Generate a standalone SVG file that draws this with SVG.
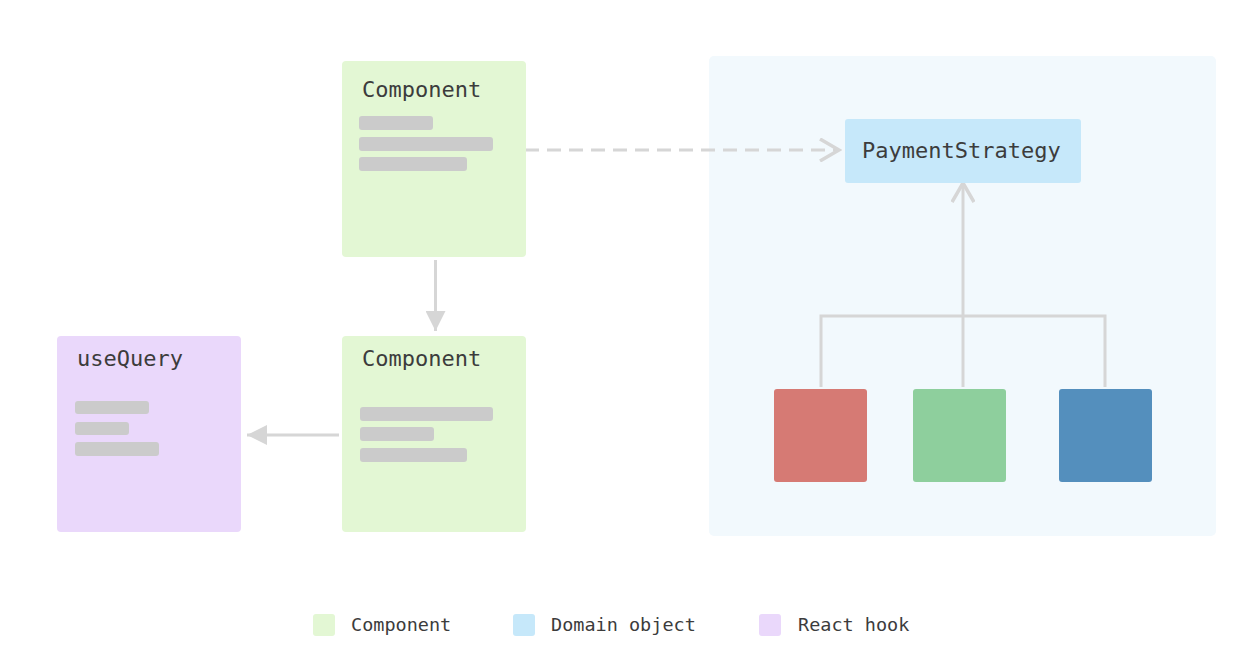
<svg xmlns="http://www.w3.org/2000/svg" width="1256" height="670" viewBox="0 0 1256 670">
  <style>
    .lbl { font-family: "DejaVu Sans Mono", "Liberation Mono", monospace; font-size: 22px; fill: #3c3c3c; }
    .leg { font-family: "DejaVu Sans Mono", "Liberation Mono", monospace; font-size: 18.5px; fill: #3c3c3c; }
    .comp { fill: #e3f7d4; }
    .hook { fill: #ead8fb; }
    .dom { fill: #c6e8fa; }
    .bar { fill: #cbcbcb; }
    .conn { stroke: #d6d6d6; stroke-width: 3; fill: none; }
  </style>
  <defs>
    <marker id="tri" viewBox="0 0 20 20" refX="20" refY="10" markerWidth="20" markerHeight="20" markerUnits="userSpaceOnUse" orient="auto">
      <path d="M0,0 L20,10 L0,20 Z" fill="#d6d6d6"/>
    </marker>
    <marker id="chev" viewBox="0 0 24 24" refX="21" refY="12" markerWidth="24" markerHeight="24" markerUnits="userSpaceOnUse" orient="auto">
      <path d="M2,1 L21,12 L2,23" fill="none" stroke="#d6d6d6" stroke-width="3.5" stroke-linejoin="miter"/>
    </marker>
  </defs>
  <rect width="1256" height="670" fill="#ffffff"/>

  <g id="domain-panel">
    <rect x="709" y="56" width="507" height="480" rx="5" fill="#f2f9fd"/>
  </g>

  <g id="connectors">
    <line class="conn" x1="525" y1="150" x2="839" y2="150" stroke-dasharray="14 8" marker-end="url(#chev)"/>
    <line class="conn" x1="435.5" y1="260" x2="435.5" y2="331" marker-end="url(#tri)"/>
    <line class="conn" x1="339" y1="435" x2="247" y2="435" marker-end="url(#tri)"/>
    <path class="conn" d="M821,387 V316 H1105 V387"/>
    <line class="conn" x1="963" y1="387" x2="963" y2="183" marker-end="url(#chev)"/>
  </g>

  <g id="component-top">
    <rect class="comp" x="342" y="61" width="184" height="196" rx="4"/>
    <text class="lbl" x="362" y="97">Component</text>
    <rect class="bar" x="359" y="116" width="74" height="14" rx="3"/>
    <rect class="bar" x="359" y="137" width="134" height="14" rx="3"/>
    <rect class="bar" x="359" y="157" width="108" height="14" rx="3"/>
  </g>

  <g id="component-bottom">
    <rect class="comp" x="342" y="336" width="184" height="196" rx="4"/>
    <text class="lbl" x="362" y="366">Component</text>
    <rect class="bar" x="360" y="407" width="133" height="14" rx="3"/>
    <rect class="bar" x="360" y="427" width="74" height="14" rx="3"/>
    <rect class="bar" x="360" y="448" width="107" height="14" rx="3"/>
  </g>

  <g id="use-query">
    <rect class="hook" x="57" y="336" width="184" height="196" rx="4"/>
    <text class="lbl" x="77" y="366">useQuery</text>
    <rect class="bar" x="75" y="401" width="74" height="13" rx="3"/>
    <rect class="bar" x="75" y="422" width="54" height="13" rx="3"/>
    <rect class="bar" x="75" y="442" width="84" height="14" rx="3"/>
  </g>

  <g id="payment-strategy">
    <rect class="dom" x="845" y="119" width="236" height="64" rx="3"/>
    <text class="lbl" x="862" y="158">PaymentStrategy</text>
  </g>

  <g id="strategy-red">
    <rect x="774" y="389" width="93" height="93" rx="3" fill="#d67a74"/>
  </g>
  <g id="strategy-green">
    <rect x="913" y="389" width="93" height="93" rx="3" fill="#8ecf9d"/>
  </g>
  <g id="strategy-blue">
    <rect x="1059" y="389" width="93" height="93" rx="3" fill="#548fbd"/>
  </g>

  <g id="legend">
    <rect class="comp" x="313" y="614" width="22" height="22" rx="3"/>
    <text class="leg" x="351" y="631">Component</text>
    <rect class="dom" x="513" y="614" width="22" height="22" rx="3"/>
    <text class="leg" x="551" y="631">Domain object</text>
    <rect class="hook" x="759" y="614" width="22" height="22" rx="3"/>
    <text class="leg" x="798" y="631">React hook</text>
  </g>
</svg>
